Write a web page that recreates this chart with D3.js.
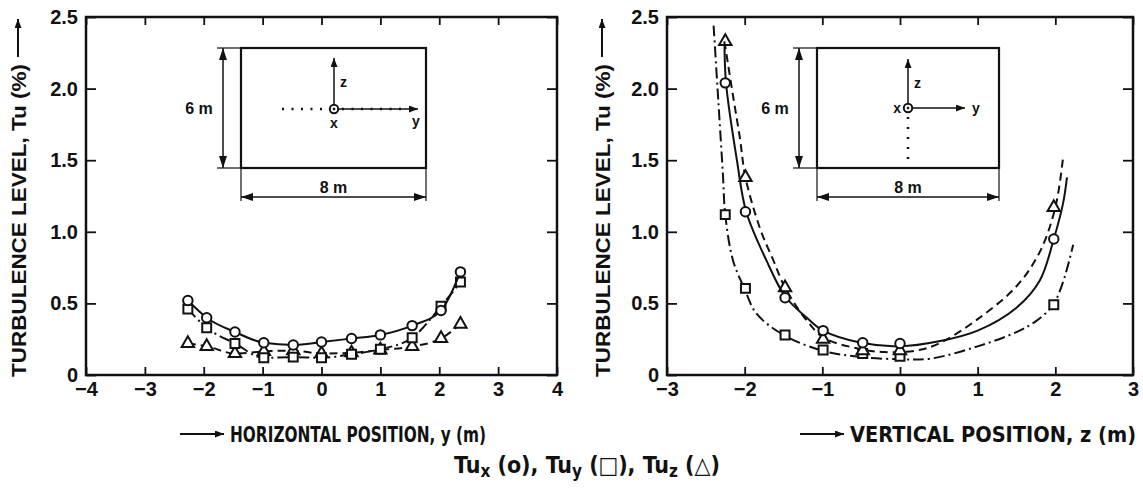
<!DOCTYPE html>
<meta charset="utf-8">
<head>
<script src="https://d3js.org/d3.v7.min.js"></script>
<style>
  body { margin: 0; background: #fff; }
  svg text { font-family: "Liberation Sans", Arial, sans-serif; font-weight: bold; fill: #111; }
  .narrow { font-family: "Liberation Sans Narrow", "DejaVu Sans Condensed", "Liberation Sans", sans-serif; }
</style>
</head>
<body>
<svg id="chart" width="1143" height="495"></svg>
<script>
// ---- left panel: horizontal traverse y (m)
var yPos  = [-2.27, -1.95, -1.47, -0.98, -0.48, 0, 0.51, 1.0, 1.54, 2.03, 2.36];
var tuxH  = [0.52, 0.40, 0.30, 0.225, 0.21, 0.23, 0.255, 0.28, 0.345, 0.45, 0.72];
var tuyH  = [0.46, 0.33, 0.22, 0.12, 0.125, 0.12, 0.145, 0.18, 0.26, 0.48, 0.65];
var tuzH  = [0.22, 0.20, 0.15, 0.165, 0.17, 0.15, 0.155, 0.175, 0.20, 0.255, 0.355];

// ---- right panel: vertical traverse z (m)
var zPos  = [-2.25, -1.99, -1.48, -0.99, -0.48, 0, 1.98];
var tuxV  = [2.04, 1.14, 0.54, 0.31, 0.225, 0.22, 0.95];
var tuyV  = [1.12, 0.605, 0.28, 0.175, 0.15, 0.13, 0.49];
var tuzV  = [2.33, 1.38, 0.61, 0.25, 0.17, 0.17, 1.17];

// fitted curves (right panel)
var fitXz  = [-2.26, -2.24, -2.1, -1.98, -1.72, -1.48, -1.2, -0.99, -0.5, 0, 0.5, 1.0, 1.5, 1.8, 1.98, 2.1, 2.15];
var fitXtu = [2.33, 2.04, 1.5, 1.14, 0.80, 0.55, 0.40, 0.31, 0.225, 0.2, 0.235, 0.31, 0.47, 0.66, 0.95, 1.2, 1.38];
var fitZz  = [-2.26, -2.15, -2.06, -1.99, -1.8, -1.63, -1.48, -1.2, -0.98, -0.5, -0.2, 0.2, 0.5, 1.0, 1.5, 1.8, 2.0, 2.1];
var fitZtu = [2.33, 1.95, 1.65, 1.38, 1.02, 0.80, 0.61, 0.38, 0.26, 0.18, 0.16, 0.17, 0.22, 0.39, 0.62, 0.86, 1.17, 1.52];
var fitYz  = [-2.4, -2.34, -2.28, -2.25, -2.15, -2.0, -1.85, -1.5, -1.0, -0.5, 0, 0.4, 1.0, 1.5, 1.76, 1.97, 2.1, 2.23];
var fitYtu = [2.44, 1.92, 1.4, 1.12, 0.80, 0.60, 0.43, 0.28, 0.17, 0.125, 0.11, 0.115, 0.2, 0.3, 0.38, 0.49, 0.65, 0.91];

var xTicksL = [-4, -3, -2, -1, 0, 1, 2, 3, 4];
var xTicksR = [-3, -2, -1, 0, 1, 2, 3];
var yTicks  = [0, 0.5, 1.0, 1.5, 2.0, 2.5];

var svg = d3.select("#chart");
var plotTop = 17, plotBottom = 375;

var yScale = d3.scaleLinear().domain([0, 2.5]).range([plotBottom, plotTop]);
var xL = d3.scaleLinear().domain([-4, 4]).range([86, 557]);
var xR = d3.scaleLinear().domain([-3, 3]).range([667, 1133]);

var defs = svg.append("defs");
defs.append("marker").attr("id", "ah").attr("viewBox", "0 0 12 8")
  .attr("refX", 12).attr("refY", 4).attr("markerWidth", 12).attr("markerHeight", 8)
  .attr("markerUnits", "userSpaceOnUse").attr("orient", "auto-start-reverse")
  .append("path").attr("d", "M0,0 L12,4 L0,8 Z").attr("fill", "#111");
defs.append("marker").attr("id", "ahs").attr("viewBox", "0 0 9 7")
  .attr("refX", 9).attr("refY", 3.5).attr("markerWidth", 9).attr("markerHeight", 7)
  .attr("markerUnits", "userSpaceOnUse").attr("orient", "auto-start-reverse")
  .append("path").attr("d", "M0,0 L9,3.5 L0,7 Z").attr("fill", "#111");

var fmtX = function(d) { return d < 0 ? "\u2212" + Math.abs(d) : String(d); };
var fmtY = function(d) { return d === 0 ? "0" : d3.format(".1f")(d); };

function drawFrame(x, ticks) {
  var g = svg.append("g");
  var x0 = x.range()[0], x1 = x.range()[1];

  g.append("g").attr("transform", "translate(0," + plotBottom + ")")
    .call(d3.axisBottom(x).tickValues(ticks).tickSize(-8).tickPadding(7).tickFormat(fmtX));
  g.append("g").attr("transform", "translate(0," + plotTop + ")")
    .call(d3.axisTop(x).tickValues(ticks).tickSize(-8).tickFormat(""));
  g.append("g").attr("transform", "translate(" + x0 + ",0)")
    .call(d3.axisLeft(yScale).tickValues(yTicks).tickSize(-10).tickPadding(8).tickFormat(fmtY));
  g.append("g").attr("transform", "translate(" + x1 + ",0)")
    .call(d3.axisRight(yScale).tickValues(yTicks).tickSize(-10).tickFormat(""));

  g.selectAll(".domain").remove();
  g.selectAll(".tick line").attr("stroke", "#111").attr("stroke-width", 1.8);
  g.selectAll(".tick text").style("font-size", "20px").attr("fill", "#111");

  g.append("rect").attr("x", x0).attr("y", plotTop).attr("width", x1 - x0).attr("height", plotBottom - plotTop)
    .attr("fill", "none").attr("stroke", "#111").attr("stroke-width", 2.5);
}

function drawSeries(x, xs, vals, symbol, dash, curve, cx, cy) {
  var pts = xs.map(function(d, i) { return [d, vals[i]]; });
  var linePts = cx ? cx.map(function(d, i) { return [d, cy[i]]; }) : pts;
  svg.append("path").datum(linePts)
    .attr("d", d3.line().x(function(p) { return x(p[0]); }).y(function(p) { return yScale(p[1]); }).curve(curve))
    .attr("fill", "none").attr("stroke", "#111").attr("stroke-width", 2).attr("stroke-dasharray", dash);
  var size = symbol === d3.symbolCircle ? 70 : (symbol === d3.symbolSquare ? 80 : 66);
  svg.append("g").selectAll("path").data(pts).enter().append("path")
    .attr("transform", function(p) { return "translate(" + x(p[0]) + "," + yScale(p[1]) + ")"; })
    .attr("d", d3.symbol().type(symbol).size(size))
    .attr("fill", "#fff").attr("stroke", "#111").attr("stroke-width", 2);
}

var DASH = "8,5", DASHDOT = "11,4,2,4";

drawFrame(xL, xTicksL);
drawFrame(xR, xTicksR);

// left panel series
drawSeries(xL, yPos, tuzH, d3.symbolTriangle, DASH, d3.curveMonotoneX);
drawSeries(xL, yPos, tuyH, d3.symbolSquare, DASHDOT, d3.curveMonotoneX);
drawSeries(xL, yPos, tuxH, d3.symbolCircle, null, d3.curveMonotoneX);

// right panel series
var cr = d3.curveCatmullRom.alpha(0.5);
drawSeries(xR, zPos, tuyV, d3.symbolSquare, DASHDOT, cr, fitYz, fitYtu);
drawSeries(xR, zPos, tuzV, d3.symbolTriangle, DASH, cr, fitZz, fitZtu);
drawSeries(xR, zPos, tuxV, d3.symbolCircle, null, cr, fitXz, fitXtu);

// ---- tunnel cross-section insets
function inset(b, horizontalPath) {
  var g = svg.append("g").attr("stroke", "#111").attr("fill", "none");
  g.append("rect").attr("x", b.x0).attr("y", b.y0).attr("width", b.x1 - b.x0).attr("height", b.y1 - b.y0)
    .attr("stroke-width", 2.2);
  // height dimension
  g.append("line").attr("x1", b.dx - 6).attr("x2", b.x0).attr("y1", b.y0).attr("y2", b.y0).attr("stroke-width", 1.2);
  g.append("line").attr("x1", b.dx - 6).attr("x2", b.x0).attr("y1", b.y1).attr("y2", b.y1).attr("stroke-width", 1.2);
  g.append("line").attr("x1", b.dx).attr("x2", b.dx).attr("y1", b.y0).attr("y2", b.y1)
    .attr("stroke-width", 1.5).attr("marker-start", "url(#ah)").attr("marker-end", "url(#ah)");
  // width dimension
  g.append("line").attr("x1", b.x0).attr("x2", b.x0).attr("y1", b.y1).attr("y2", b.dy + 4).attr("stroke-width", 1.2);
  g.append("line").attr("x1", b.x1).attr("x2", b.x1).attr("y1", b.y1).attr("y2", b.dy + 4).attr("stroke-width", 1.2);
  g.append("line").attr("x1", b.x0).attr("x2", b.x1).attr("y1", b.dy).attr("y2", b.dy)
    .attr("stroke-width", 1.5).attr("marker-start", "url(#ah)").attr("marker-end", "url(#ah)");
  // coordinate axes
  g.append("circle").attr("cx", b.ox).attr("cy", b.oy).attr("r", 4.2).attr("stroke-width", 2);
  g.append("circle").attr("cx", b.ox).attr("cy", b.oy).attr("r", 1).attr("fill", "#111");
  g.append("line").attr("x1", b.ox).attr("x2", b.ox).attr("y1", b.oy - 4).attr("y2", b.zTop)
    .attr("stroke-width", 1.5).attr("marker-end", "url(#ahs)");
  g.append("line").attr("x1", b.ox + 4).attr("x2", b.yEnd).attr("y1", b.oy).attr("y2", b.oy)
    .attr("stroke-width", 1.5).attr("marker-end", "url(#ahs)");
  // measuring traverse (dotted)
  if (horizontalPath) {
    g.append("line").attr("x1", b.ox - 52).attr("x2", b.ox - 6).attr("y1", b.oy).attr("y2", b.oy)
      .attr("stroke-width", 2.5).attr("stroke-dasharray", "2,7.5");
    g.append("line").attr("x1", b.ox + 8).attr("x2", b.yEnd - 10).attr("y1", b.oy).attr("y2", b.oy)
      .attr("stroke-width", 2.5).attr("stroke-dasharray", "2,7.5");
  } else {
    g.append("line").attr("x1", b.ox).attr("x2", b.ox).attr("y1", b.oy + 9).attr("y2", b.oy + 52)
      .attr("stroke-width", 2.5).attr("stroke-dasharray", "2,8");
  }
  var t = svg.append("g");
  t.append("text").attr("x", b.dx - 24).attr("y", (b.y0 + b.y1) / 2 + 6).attr("text-anchor", "middle")
    .style("font-size", "16px").text("6 m");
  t.append("text").attr("x", (b.x0 + b.x1) / 2).attr("y", b.dy - 4).attr("text-anchor", "middle")
    .style("font-size", "16px").text("8 m");
  t.append("text").attr("x", b.ox + 6).attr("y", b.zTop + 29).style("font-size", "14px").text("z");
  if (horizontalPath) {
    t.append("text").attr("x", b.ox).attr("y", b.oy + 19).attr("text-anchor", "middle").style("font-size", "14px").text("x");
    t.append("text").attr("x", b.yEnd - 2).attr("y", b.oy + 17).attr("text-anchor", "middle").style("font-size", "14px").text("y");
  } else {
    t.append("text").attr("x", b.ox - 7).attr("y", b.oy + 5).attr("text-anchor", "end").style("font-size", "14px").text("x");
    t.append("text").attr("x", b.yEnd + 7).attr("y", b.oy + 5).style("font-size", "14px").text("y");
  }
}

inset({ x0: 241, x1: 426, y0: 48, y1: 168, dx: 223, dy: 197, ox: 334, oy: 109, zTop: 58, yEnd: 418 }, true);
inset({ x0: 817, x1: 999, y0: 48, y1: 168, dx: 799, dy: 197, ox: 908, oy: 108, zTop: 59, yEnd: 965 }, false);

// ---- axis titles
function yTitle(cx) {
  svg.append("text").attr("transform", "translate(" + (cx + 8) + ",377) rotate(-90)")
    .attr("textLength", 313).attr("lengthAdjust", "spacingAndGlyphs")
    .style("font-size", "21px").text("TURBULENCE LEVEL, Tu (%)");
  svg.append("line").attr("x1", cx).attr("x2", cx).attr("y1", 57).attr("y2", 19)
    .attr("stroke", "#111").attr("stroke-width", 2).attr("marker-end", "url(#ahs)");
}
yTitle(18);
yTitle(602);

function xTitle(ax, tx, len, label) {
  svg.append("line").attr("x1", ax).attr("x2", tx - 6).attr("y1", 434).attr("y2", 434)
    .attr("stroke", "#111").attr("stroke-width", 2).attr("marker-end", "url(#ahs)");
  svg.append("text").attr("class", "narrow").attr("x", tx).attr("y", 442)
    .attr("textLength", len).attr("lengthAdjust", "spacingAndGlyphs")
    .style("font-size", "22px").text(label);
}
xTitle(180, 230, 256, "HORIZONTAL POSITION, y (m)");
xTitle(800, 850, 286, "VERTICAL POSITION, z (m)");

// ---- caption
var cap = svg.append("text").attr("class", "narrow").attr("x", 587).attr("y", 473)
  .attr("text-anchor", "middle").style("font-size", "23px");
var parts = [["Tu", ""], ["x", "s"], [" (o), Tu", ""], ["y", "s"], [" (\u25A1), Tu", ""], ["z", "s"], [" (\u25B3)", ""]];
parts.forEach(function(p, i) {
  var ts = cap.append("tspan").text(p[0]);
  if (p[1] === "s") ts.attr("dy", 4).style("font-size", "17px");
  else if (i > 0) ts.attr("dy", -4);
});
</script>
</body>
